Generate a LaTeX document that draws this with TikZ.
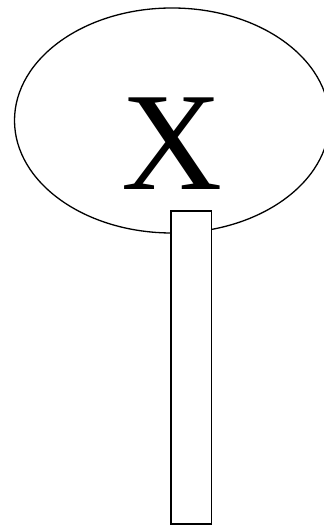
\documentclass[tikz,border=0pt]{standalone}
\usepackage{fontspec}
\setmainfont{Liberation Serif}
\usetikzlibrary{shapes.geometric}
\begin{document}
\begin{tikzpicture}[x=1pt,y=1pt,
  outline/.style={draw=black,line width=1.3pt},
  head/.style={outline,ellipse,fill=white,minimum width=315pt,minimum height=225pt,inner sep=0pt},
  stick/.style={outline,rectangle,fill=white,minimum width=40.5pt,minimum height=313pt,inner sep=0pt}]
\useasboundingbox (0,0) rectangle (324,525);
\begin{scope}
\clip (0,0) rectangle (324,525);
\node[head] (h) at (172,404.5) {};
\node[stick] (s) at (191.2,157.5) {};
\node[font=\fontsize{140}{140}\selectfont,inner sep=0pt] (x) at (172,381.5) {X};
\end{scope}
\end{tikzpicture}
\end{document}
